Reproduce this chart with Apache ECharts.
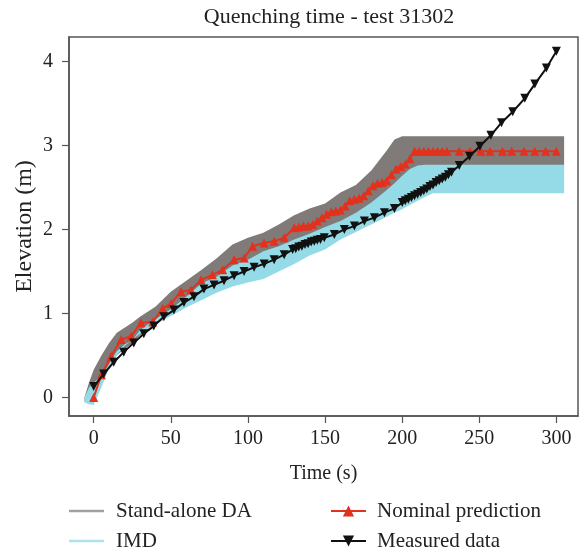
<!DOCTYPE html>
<html>
<head>
<meta charset="utf-8">
<script src="https://cdn.jsdelivr.net/npm/echarts@6/dist/echarts.min.js"></script>
<style>html,body{margin:0;padding:0;background:#fff}#c{width:580px;height:552px}</style>
</head>
<body>
<div id="c"></div>
<script>
// ---- data ----
const xTicks = [0, 50, 100, 150, 200, 250, 300];
const yTicks = [0, 1, 2, 3, 4];

// uncertainty bands (time in s, elevation in m)
const bandTime = [-6, -3, 0, 5, 10, 15, 20, 25, 30, 40, 50, 60, 70, 80, 90, 100, 110, 120, 130, 140, 150, 160, 170, 180, 190, 195, 200, 205, 210, 215, 220, 230, 305];
const daUpper  = [0.00, 0.18, 0.33, 0.50, 0.65, 0.77, 0.83, 0.89, 0.96, 1.08, 1.26, 1.39, 1.52, 1.66, 1.82, 1.90, 1.96, 2.06, 2.17, 2.25, 2.31, 2.44, 2.53, 2.70, 2.94, 3.07, 3.11, 3.11, 3.11, 3.11, 3.11, 3.11, 3.11];
const daLower  = [-0.05, 0.05, 0.12, 0.20, 0.36, 0.50, 0.58, 0.64, 0.74, 0.88, 1.00, 1.14, 1.30, 1.38, 1.50, 1.58, 1.68, 1.74, 1.82, 1.89, 1.97, 2.04, 2.14, 2.26, 2.41, 2.49, 2.58, 2.66, 2.72, 2.74, 2.75, 2.75, 2.75];
const imdUpper = [0.00, 0.12, 0.18, 0.25, 0.40, 0.55, 0.63, 0.68, 0.80, 0.93, 1.05, 1.20, 1.36, 1.44, 1.57, 1.64, 1.74, 1.80, 1.88, 1.95, 2.03, 2.10, 2.20, 2.32, 2.47, 2.55, 2.64, 2.72, 2.76, 2.77, 2.77, 2.77, 2.77];
const imdLower = [-0.06, -0.08, -0.09, 0.12, 0.35, 0.50, 0.61, 0.69, 0.76, 0.87, 0.97, 1.07, 1.16, 1.25, 1.32, 1.37, 1.41, 1.50, 1.59, 1.69, 1.76, 1.88, 1.97, 2.06, 2.15, 2.20, 2.24, 2.29, 2.34, 2.39, 2.43, 2.43, 2.43];

// nominal prediction
const nomTime = [0, 5, 11.3, 17.8, 24.3, 30.7, 38.3, 44.8, 50.2, 56.6, 63.1, 69.6, 77, 83.6, 91, 97.6, 103, 110.5, 117, 123.5,
  130, 133, 136, 139, 142, 145, 148, 151, 154, 157, 160, 163, 166, 169, 172, 175, 178, 181, 184, 187, 190, 193, 196, 199, 202, 205, 208, 211, 214, 217, 220, 223, 226, 229,
  237, 244, 251, 257, 265, 271, 279, 286, 293, 300];
const nomElev = [0.00, 0.27, 0.49, 0.69, 0.73, 0.89, 0.90, 1.06, 1.12, 1.26, 1.28, 1.40, 1.46, 1.52, 1.64, 1.66, 1.80, 1.84, 1.86, 1.90,
  2.02, 2.03, 2.04, 2.04, 2.06, 2.10, 2.14, 2.18, 2.21, 2.22, 2.23, 2.28, 2.34, 2.36, 2.37, 2.40, 2.46, 2.52, 2.55, 2.56, 2.58, 2.65, 2.72, 2.75, 2.78, 2.84, 2.93, 2.93, 2.93, 2.93, 2.93, 2.93, 2.93, 2.93,
  2.93, 2.93, 2.93, 2.93, 2.93, 2.93, 2.93, 2.93, 2.93, 2.93];

// measured data
const measTime = [0, 6.5, 13, 19.5, 26, 32.5, 39, 45.5, 52, 58.5, 65, 71.5, 78, 84.5, 91, 97.5, 104, 110.5, 117, 123.5,
  129, 131, 133, 135, 137, 139, 141, 143, 145, 147, 149.5,
  156, 162.5, 169, 175.5, 182, 188.5, 195,
  200, 202, 204, 206, 208, 210, 212, 214, 216, 218, 220, 222, 224, 226, 228, 230, 232,
  237, 243.7, 250.4, 257.5, 264.4, 271.7, 279.5, 286, 293.5, 300];
const measElev = [0.13, 0.28, 0.42, 0.54, 0.65, 0.76, 0.85, 0.96, 1.04, 1.13, 1.20, 1.29, 1.34, 1.39, 1.45, 1.50, 1.55, 1.59, 1.64, 1.70,
  1.76, 1.77, 1.79, 1.80, 1.82, 1.83, 1.85, 1.86, 1.87, 1.88, 1.90,
  1.94, 2.00, 2.04, 2.10, 2.14, 2.20, 2.25,
  2.32, 2.34, 2.36, 2.38, 2.40, 2.42, 2.44, 2.46, 2.48, 2.51, 2.53, 2.56, 2.58, 2.60, 2.62, 2.65, 2.68,
  2.76, 2.87, 2.99, 3.12, 3.27, 3.40, 3.56, 3.73, 3.92, 4.12];

// ---- chart ----
const FONT = '"Liberation Serif", "DejaVu Serif", serif';
const chart = echarts.init(document.getElementById('c'), null, {renderer: 'canvas'});

function band(name, upper, lower, color, z) {
  return {
    type: 'custom', name: name, z: z, silent: true, clip: true,
    itemStyle: {color: color},
    data: [[bandTime[0], lower[0]]],
    renderItem: function (params, api) {
      const pts = [];
      for (let i = 0; i < bandTime.length; i++) pts.push(api.coord([bandTime[i], upper[i]]));
      for (let i = bandTime.length - 1; i >= 0; i--) pts.push(api.coord([bandTime[i], lower[i]]));
      return {type: 'polygon', shape: {points: pts}, style: {fill: color}};
    }
  };
}
const zip = (a, b) => a.map((v, i) => [v, b[i]]);
const bandIcon = 'path://M0,0H35V2.5H0Z';
function leg(left, top, item, padLeft) {
  return {orient: 'horizontal', left: left, top: top, padding: 0, itemWidth: 35, itemHeight: 14,
          textStyle: {fontFamily: FONT, fontSize: 21, color: '#222', lineHeight: 22, padding: [0, 0, 0, padLeft]},
          data: [item]};
}

chart.setOption({
  animation: false,
  graphic: [{type: 'text', x: 329, y: 17, style: {text: 'Quenching time - test 31302', font: '22px ' + FONT, fill: '#222', align: 'center', verticalAlign: 'middle'}}],
  grid: {left: 69, right: 2, top: 37, bottom: 136, show: true, borderColor: '#555', borderWidth: 1.5, backgroundColor: 'transparent'},
  xAxis: {
    type: 'value', min: -16, max: 314,
    name: 'Time (s)', nameLocation: 'middle', nameGap: 48,
    nameTextStyle: {fontFamily: FONT, fontSize: 20, color: '#222'},
    axisLine: {show: true, onZero: false, lineStyle: {color: '#555', width: 1.5}},
    axisTick: {show: true, length: 7, customValues: xTicks, lineStyle: {color: '#555', width: 1.2}},
    axisLabel: {customValues: xTicks, fontFamily: FONT, fontSize: 20, color: '#222', margin: 13},
    splitLine: {show: false}
  },
  yAxis: {
    type: 'value', min: -0.22, max: 4.29,
    name: 'Elevation (m)', nameLocation: 'middle', nameGap: 32, nameMoveOverlap: false,
    nameTextStyle: {fontFamily: FONT, fontSize: 24, color: '#222'},
    axisLine: {show: true, onZero: false, lineStyle: {color: '#555', width: 1.5}},
    axisTick: {show: true, length: 7, customValues: yTicks, lineStyle: {color: '#555', width: 1.2}},
    axisLabel: {customValues: yTicks, fontFamily: FONT, fontSize: 20, color: '#222', margin: 16},
    splitLine: {show: false}
  },
  legend: [
    leg(69, 500, {name: 'Stand-alone DA', icon: bandIcon, itemStyle: {color: '#a4a2a1'}}, 7),
    leg(69, 530, {name: 'IMD', icon: bandIcon, itemStyle: {color: '#ace3ec'}}, 7),
    leg(330, 500, 'Nominal prediction', 6),
    leg(330, 530, 'Measured data', 6)
  ],
  series: [
    band('Stand-alone DA', daUpper, daLower, '#807b79', 1),
    band('IMD', imdUpper, imdLower, '#95dbe7', 2),
    {type: 'line', name: 'Nominal prediction', z: 3, data: zip(nomTime, nomElev),
     symbol: 'triangle', symbolSize: 9, showAllSymbol: true,
     lineStyle: {color: '#e2311d', width: 2}, itemStyle: {color: '#e2311d'}},
    {type: 'line', name: 'Measured data', z: 4, data: zip(measTime, measElev),
     symbol: 'triangle', symbolRotate: 180, symbolSize: 9, showAllSymbol: true,
     lineStyle: {color: '#111', width: 2}, itemStyle: {color: '#111'}}
  ]
});
</script>
</body>
</html>
